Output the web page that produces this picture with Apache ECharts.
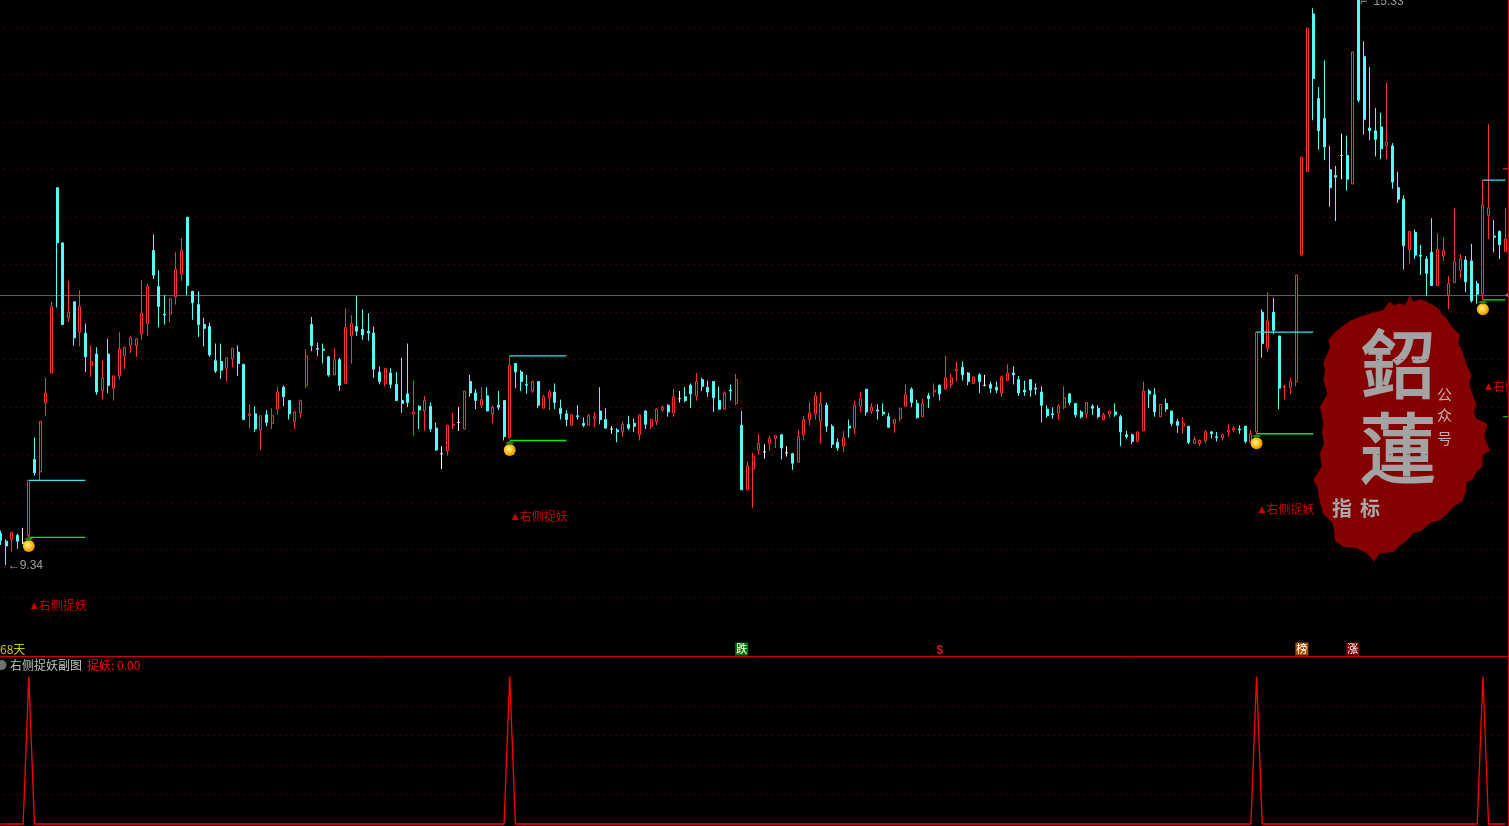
<!DOCTYPE html>
<html><head><meta charset="utf-8">
<style>html,body{margin:0;padding:0;background:#000;overflow:hidden}#c{width:1509px;height:826px}</style>
<script src="https://cdn.jsdelivr.net/npm/echarts@6/dist/echarts.min.js"></script>
</head><body><div id="c"></div>
<script>
// candles: [open, close, low, high]
const ohlc = [
[9.67,9.60,9.55,9.70],[9.59,9.54,9.34,9.61],[9.61,9.68,9.48,9.69],[9.65,9.59,9.51,9.67],[9.57,9.57,9.56,9.73],
[9.65,10.23,9.63,10.23],[10.45,10.31,10.28,10.68],[10.32,10.85,10.23,10.85],[11.05,11.15,10.91,11.31],[11.36,12.06,11.36,12.11],
[13.31,12.73,12.05,13.31],[12.73,11.87,11.87,12.73],[11.94,12.00,11.90,12.33],[12.11,11.73,11.65,12.11],[11.79,12.06,11.64,12.23],
[11.78,11.53,11.37,11.88],[11.44,11.48,11.32,11.65],[11.56,11.16,11.13,11.63],[11.17,11.31,11.08,11.49],[11.56,11.23,11.15,11.72],
[11.20,11.33,11.07,11.33],[11.33,11.61,11.29,11.79],[11.54,11.63,11.40,11.64],[11.65,11.73,11.57,11.75],[11.65,11.72,11.53,11.73],
[11.77,11.99,11.71,12.34],[11.88,12.27,11.75,12.30],[12.65,12.39,12.35,12.82],[12.27,12.06,11.84,12.44],[11.98,11.97,11.87,12.18],
[11.98,12.14,11.89,12.15],[12.16,12.45,12.08,12.63],[12.40,12.65,12.33,12.78],[13.00,12.28,12.18,13.00],[12.22,12.10,11.92,12.22],
[12.08,11.87,11.74,12.22],[11.87,11.83,11.64,11.94],[11.85,11.55,11.53,11.89],[11.49,11.38,11.36,11.67],[11.48,11.39,11.30,11.67],
[11.41,11.52,11.27,11.52],[11.51,11.62,11.42,11.62],[11.58,11.46,11.33,11.65],[11.45,10.87,10.87,11.46],[10.91,10.93,10.78,11.03],
[10.93,10.77,10.74,11.01],[10.76,10.91,10.55,10.91],[10.92,10.84,10.80,10.97],[10.83,10.91,10.77,10.99],[10.98,11.16,10.92,11.21],
[11.21,11.11,11.01,11.23],[11.07,10.93,10.87,11.07],[10.85,10.95,10.77,10.96],[10.94,11.07,10.89,11.08],[11.23,11.54,11.20,11.61],
[11.87,11.65,11.59,11.95],[11.62,11.61,11.54,11.68],[11.61,11.60,11.46,11.67],[11.53,11.34,11.32,11.54],[11.34,11.50,11.34,11.62],
[11.50,11.23,11.17,11.52],[11.25,11.84,11.25,12.04],[11.75,11.88,11.46,11.97],[11.85,11.80,11.75,12.17],[11.82,11.76,11.71,12.03],
[11.80,11.78,11.70,11.99],[11.78,11.40,11.31,11.85],[11.37,11.27,11.24,11.43],[11.25,11.41,11.22,11.41],[11.36,11.24,11.20,11.41],
[11.24,11.07,11.07,11.37],[11.07,11.04,10.94,11.52],[11.14,11.05,11.00,11.67],[10.93,10.95,10.70,11.28],[11.01,10.97,10.77,11.02],
[10.96,11.07,10.75,11.12],[11.01,10.77,10.74,11.05],[10.78,10.55,10.54,10.84],[10.51,10.51,10.35,10.59],[10.54,10.81,10.49,10.81],
[10.81,10.82,10.77,10.94],[10.84,10.84,10.75,11.00],[10.77,11.17,10.77,11.17],[11.27,11.15,11.11,11.34],[11.15,11.07,10.98,11.19],
[11.02,11.08,10.99,11.21],[11.12,10.96,10.96,11.21],[10.93,11.00,10.83,11.02],[11.02,11.00,10.97,11.17],[11.07,10.69,10.65,11.07],
[10.68,11.44,10.67,11.54],[11.46,11.37,11.20,11.46],[11.37,11.27,11.17,11.39],[11.24,11.23,11.14,11.34],[11.17,11.27,11.15,11.28],
[11.27,11.02,10.99,11.27],[10.99,11.11,10.99,11.13],[11.10,11.16,10.97,11.18],[11.16,11.05,10.98,11.25],[10.99,10.93,10.87,11.08],
[10.93,10.87,10.80,10.97],[10.81,10.92,10.80,10.93],[10.91,10.90,10.87,11.02],[10.83,10.81,10.79,10.89],[10.81,10.91,10.81,10.93],
[10.88,10.90,10.79,10.95],[10.96,10.87,10.82,11.21],[10.87,10.78,10.77,10.99],[10.77,10.77,10.72,10.80],[10.76,10.74,10.63,10.78],
[10.74,10.82,10.69,10.85],[10.82,10.78,10.76,10.91],[10.83,10.80,10.74,10.88],[10.71,10.92,10.65,10.92],[10.96,10.82,10.77,10.97],
[10.80,10.87,10.77,10.88],[10.85,10.98,10.81,10.99],[10.97,11.00,10.95,11.02],[11.02,10.95,10.90,11.03],[10.94,11.11,10.90,11.19],
[11.09,11.09,11.05,11.17],[11.11,11.07,11.05,11.21],[11.23,11.14,10.99,11.25],[11.12,11.27,11.07,11.36],[11.29,11.22,11.17,11.31],
[11.21,11.16,11.11,11.28],[11.27,11.10,10.95,11.27],[11.07,10.98,10.97,11.22],[10.98,11.15,10.98,11.17],[11.18,11.17,11.07,11.24],
[11.04,11.29,11.02,11.35],[10.81,10.13,10.13,10.96],[10.13,10.38,10.13,10.43],[10.35,10.48,9.94,10.52],[10.55,10.62,10.50,10.72],
[10.53,10.53,10.46,10.61],[10.62,10.67,10.54,10.70],[10.67,10.70,10.57,10.70],[10.71,10.57,10.45,10.72],[10.52,10.52,10.48,10.59],
[10.51,10.41,10.34,10.52],[10.42,10.69,10.42,10.76],[10.71,10.87,10.65,10.91],[10.87,10.94,10.81,11.05],[10.93,11.12,10.87,11.16],
[10.85,11.04,10.62,11.16],[11.02,10.80,10.74,11.05],[10.80,10.61,10.57,10.82],[10.63,10.57,10.54,10.67],[10.59,10.68,10.53,10.75],
[10.80,10.78,10.68,10.87],[10.78,11.02,10.72,11.07],[11.01,11.09,10.95,11.16],[11.19,10.95,10.91,11.19],[10.96,11.00,10.93,11.04],
[10.97,10.96,10.87,11.03],[10.95,10.93,10.91,11.04],[10.90,10.79,10.78,10.94],[10.83,10.87,10.73,10.87],[10.88,10.99,10.85,10.99],
[11.01,11.13,11.01,11.24],[11.19,11.05,11.00,11.21],[11.04,10.89,10.88,11.08],[10.90,11.04,10.90,11.09],[11.12,11.09,10.99,11.15],
[11.16,11.18,11.11,11.25],[11.23,11.14,11.07,11.24],[11.19,11.31,11.19,11.54],[11.24,11.31,11.20,11.35],[11.38,11.40,11.27,11.48],
[11.42,11.34,11.28,11.48],[11.36,11.27,11.23,11.37],[11.25,11.32,11.25,11.32],[11.34,11.27,11.15,11.36],[11.23,11.23,11.22,11.34],
[11.24,11.20,11.15,11.27],[11.21,11.18,11.15,11.27],[11.15,11.32,11.11,11.33],[11.28,11.36,11.28,11.45],[11.36,11.34,11.24,11.43],
[11.29,11.15,11.12,11.33],[11.18,11.16,11.12,11.28],[11.29,11.18,11.11,11.29],[11.20,11.19,11.13,11.25],[11.16,11.02,10.84,11.22],
[10.98,10.91,10.89,11.02],[10.93,10.92,10.88,11.00],[10.94,11.01,10.87,11.03],[11.00,11.10,10.98,11.22],[11.14,11.05,11.02,11.15],
[11.04,10.92,10.89,11.04],[10.95,10.90,10.88,10.97],[10.93,11.05,10.88,11.05],[11.01,10.99,10.92,11.03],[10.99,10.90,10.88,11.02],
[10.87,10.92,10.87,10.94],[10.93,10.96,10.89,10.96],[10.95,10.92,10.90,11.04],[10.90,10.74,10.59,10.92],[10.71,10.69,10.67,10.75],
[10.71,10.64,10.61,10.72],[10.64,10.74,10.63,10.74],[10.75,11.17,10.75,11.27],[11.17,11.14,10.99,11.19],[11.13,10.95,10.90,11.20],
[10.90,11.03,10.90,11.03],[11.04,10.98,10.95,11.09],[10.96,10.83,10.80,10.96],[10.85,10.81,10.73,10.88],[10.80,10.83,10.72,10.89],
[10.80,10.63,10.61,10.80],[10.62,10.66,10.62,10.69],[10.62,10.65,10.59,10.66],[10.65,10.74,10.62,10.76],[10.74,10.72,10.67,10.75],
[10.69,10.68,10.64,10.74],[10.68,10.71,10.65,10.72],[10.74,10.76,10.69,10.82],[10.76,10.78,10.74,10.80],[10.77,10.76,10.72,10.81],
[10.80,10.64,10.62,10.80],[10.63,10.72,10.63,10.76],[10.74,11.79,10.72,11.79],[12.00,11.67,11.52,12.03],[11.62,11.91,11.58,12.21],
[12.00,11.81,11.77,12.15],[11.75,11.20,10.98,11.75],[11.21,11.22,11.08,11.24],[11.21,11.27,11.14,11.31],[11.27,12.39,11.22,12.39],
[12.60,13.63,12.60,13.63],[13.48,14.99,13.48,14.99],[15.14,14.46,14.02,15.20],[14.25,13.91,13.71,14.37],[14.04,13.74,13.60,14.65],
[13.50,13.31,13.11,13.75],[13.44,13.42,12.96,13.54],[13.65,13.65,13.40,13.88],[13.65,13.40,13.28,13.86],[13.35,14.74,13.35,14.74],
[15.29,14.23,14.21,15.33],[14.69,14.03,13.87,14.85],[13.94,13.91,13.81,14.58],[13.91,13.82,13.64,14.15],[13.95,13.72,13.61,14.10],
[13.75,13.79,13.61,14.42],[13.75,13.37,13.30,13.78],[13.31,13.19,13.15,13.48],[13.19,12.70,12.45,13.23],[12.66,12.85,12.51,12.85],
[12.84,12.60,12.56,12.87],[12.60,12.59,12.39,12.71],[12.56,12.41,12.17,12.59],[12.63,12.28,12.28,12.99],[12.28,12.66,12.28,12.83],
[12.59,12.65,12.54,12.79],[12.18,12.30,12.03,12.38],[12.31,12.53,12.31,13.10],[12.44,12.56,12.36,12.61],[12.55,12.32,12.21,12.59],
[12.54,12.12,12.10,12.72],[12.30,12.19,12.09,12.33],[12.19,13.13,12.13,13.39],[13.02,13.10,12.77,13.98],[12.80,12.79,12.63,12.97],
[12.85,12.71,12.56,12.86],[12.64,12.77,12.64,13.10]
];
const categories = ohlc.map((_, i) => String(i));
const signalIndex = [5, 90, 222, 262];
const upperLevel = [10.23, 11.54, 11.79, 13.39];
const lowerLevel = [9.63, 10.65, 10.72, 12.13];
const lineSpan = 10;
const fruitLevel = [9.54, 10.55, 10.62, 12.03];
const signalTextLevel = [8.91, 9.85, 9.92, 11.22];
const peakValue = 100;
const subLevels = [20, 40, 60, 80];
const lastPrice = 12.18;
const badges = [
  {i: 131, t: '跌', c: '#007a00'},
  {i: 230, t: '榜', c: '#a05000'},
  {i: 239, t: '涨', c: '#800000'}
];
const badgeLevel = 8.455;
const dollarIndex = 166;
const extremes = [{i: 1, v: 9.34, t: '←9.34'}, {i: 240, v: 15.33, t: '⌐  15.33'}];
const edgeTicks = [{v: 13.51, c: '#ff3232'}, {v: 10.90, c: '#00e000'}];

const RED = '#ff3232', CYAN = '#54fcfc';
const FONT = '"Noto Sans CJK SC", sans-serif';
const BAND = 5.658;
const LEFT = 0.5 - BAND / 2;
const gridDots = {color: '#8a0000', width: 1, type: [1, 5]};

function levelLine(levels) {
  const d = categories.map(() => null);
  signalIndex.forEach((s, k) => {
    for (let j = s; j <= s + lineSpan && j < d.length; j++) d[j] = levels[k];
  });
  return d;
}
const subData = categories.map(() => 0);
signalIndex.forEach(s => { subData[s] = peakValue; });

const blob = [[448,35],[462,45],[480,40],[495,45],[510,15],[520,35],[540,28],[560,35],[580,45],[600,60],[605,72],[620,85],[635,110],[660,135],[655,160],[668,185],[680,225],[695,255],[688,280],[693,300],[710,345],[702,365],[708,385],[730,395],[742,402],[733,440],[750,482],[728,495],[727,530],[710,545],[696,570],[680,575],[678,605],[668,632],[640,650],[618,675],[600,690],[570,700],[545,722],[520,730],[500,752],[475,770],[460,786],[420,790],[402,815],[380,790],[350,775],[310,770],[285,752],[282,720],[278,700],[250,672],[238,630],[232,590],[220,570],[235,545],[245,530],[240,490],[252,460],[246,430],[250,400],[240,350],[262,312],[250,270],[255,240],[250,220],[270,172],[265,150],[282,130],[305,110],[330,92],[360,80],[392,70],[430,60]]
  .map(p => [1240 + p[0] / 3, 290 + p[1] / 3]);

const txt = (x, y, text, fill, size, extra) => Object.assign({
  type: 'text', silent: true,
  style: Object.assign({x, y, text, fill, font: (size) + 'px ' + FONT, textVerticalAlign: 'middle'}, extra || {})
});
const seal = {stroke: '#a3a3a3', lineWidth: 2};

const chart = echarts.init(document.getElementById('c'), null, {renderer: 'canvas'});
chart.setOption({
  animation: false,
  backgroundColor: '#000',
  grid: [
    {outerBoundsMode: 'none', left: LEFT, width: BAND * 267, top: -20.3, height: 617.5},
    {outerBoundsMode: 'none', left: LEFT, width: BAND * 267, top: 676.5, height: 147.5}
  ],
  xAxis: [
    {type: 'category', data: categories, gridIndex: 0, show: false},
    {type: 'category', data: categories, gridIndex: 1, show: false}
  ],
  yAxis: [
    {type: 'value', gridIndex: 0, min: 9, max: 15.5, interval: 0.5, scale: true,
     axisLine: {show: false}, axisTick: {show: false}, axisLabel: {show: false},
     splitLine: {show: true, lineStyle: gridDots}},
    {type: 'value', gridIndex: 1, min: 0, max: 100, interval: 20,
     axisLine: {show: false}, axisTick: {show: false}, axisLabel: {show: false},
     splitLine: {show: false}}
  ],
  graphic: {elements: [
    {type: 'polygon', z: -5, silent: true, shape: {points: blob}, style: {fill: '#850000'}},
    txt(1361, 364, '鉊', '#a3a3a3', 74, seal),
    txt(1360, 448, '蓮', '#a3a3a3', 76, seal),
    txt(1437, 394, '公', '#c9a9a9', 15),
    txt(1437, 415, '众', '#c9a9a9', 15),
    txt(1437, 438, '号', '#c9a9a9', 15),
    txt(1332, 508, '指', '#a9a9a9', 20, {font: 'bold 20px ' + FONT}),
    txt(1360, 508, '标', '#a9a9a9', 20, {font: 'bold 20px ' + FONT}),
    txt(0, 649, '68天', '#c8c800', 12),
    txt(10, 665, '右侧捉妖副图', '#c0c0c0', 12),
    txt(87, 665, '捉妖: 0.00', '#ff0000', 12),
    {type: 'circle', silent: true, shape: {cx: 1.5, cy: 665, r: 5}, style: {fill: '#707070'}},
    {type: 'line', silent: true, z: 20, shape: {x1: 0, y1: 656.5, x2: 1509, y2: 656.5}, style: {stroke: '#c80000', lineWidth: 1}},
    {type: 'line', silent: true, z: 20, shape: {x1: 1508.5, y1: 0, x2: 1508.5, y2: 826}, style: {stroke: '#c80000', lineWidth: 1}}
  ]},
  series: [
    {type: 'candlestick', name: 'K', xAxisIndex: 0, yAxisIndex: 0, data: ohlc, barWidth: 2.5, z: 3,
     itemStyle: {color: '#000', color0: CYAN, borderColor: RED, borderColor0: CYAN, borderColorDoji: '#ffffff', borderWidth: 1},
     markLine: {silent: true, symbol: 'none', label: {show: false}, animation: false, z: 2,
       lineStyle: {color: '#5e5e5e', width: 1, type: 'solid'}, data: [{yAxis: lastPrice}]}},
    {type: 'line', name: 'upper', xAxisIndex: 0, yAxisIndex: 0, data: levelLine(upperLevel), showSymbol: false, z: 4,
     lineStyle: {color: '#35e6f0', width: 1.4}, connectNulls: false},
    {type: 'line', name: 'lower', xAxisIndex: 0, yAxisIndex: 0, data: levelLine(lowerLevel), showSymbol: false, z: 4,
     lineStyle: {color: '#00f000', width: 1.4}, connectNulls: false},
    {type: 'scatter', name: 'fruit', xAxisIndex: 0, yAxisIndex: 0, clip: false, z: 6, symbolSize: 12,
     data: signalIndex.map((s, k) => [s, fruitLevel[k]]),
     itemStyle: {opacity: 1, color: {type: 'radial', x: 0.42, y: 0.42, r: 0.65, colorStops: [
       {offset: 0, color: '#fff2a0'}, {offset: 0.45, color: '#ffc820'}, {offset: 1, color: '#e08000'}]}}},
    {type: 'scatter', name: 'leaf', xAxisIndex: 0, yAxisIndex: 0, clip: false, z: 7, symbol: 'diamond', symbolSize: [10, 4], symbolOffset: [0, -7],
     data: signalIndex.map((s, k) => [s, fruitLevel[k]]), itemStyle: {opacity: 1, color: '#2f7d1e'}},
    {type: 'scatter', name: 'signal', xAxisIndex: 0, yAxisIndex: 0, clip: false, z: 8, symbolSize: 1,
     data: signalIndex.map((s, k) => [s, signalTextLevel[k]]), itemStyle: {color: 'transparent'},
     label: {show: true, position: 'right', distance: 1.5, formatter: '{t|▲}右侧捉妖', color: '#ff0000', fontSize: 12, fontFamily: FONT,
       rich: {t: {fontSize: 9, color: '#ff0000', fontFamily: 'DejaVu Sans', padding: [0, 1, 0, 0]}}}},
    {type: 'scatter', name: 'extreme', xAxisIndex: 0, yAxisIndex: 0, clip: false, z: 8, symbolSize: 1,
     data: extremes.map(e => ({value: [e.i, e.v], label: {formatter: e.t, offset: [0, e.v > 15 ? 6 : 1]}})), itemStyle: {color: 'transparent'},
     label: {show: true, position: 'right', distance: 1, color: '#c0c0c0', fontSize: 12, fontFamily: 'Liberation Sans, sans-serif'}},
    {type: 'scatter', name: 'badge', xAxisIndex: 0, yAxisIndex: 0, clip: false, z: 8, symbol: 'rect', symbolSize: 13,
     data: badges.map(b => ({value: [b.i, badgeLevel], itemStyle: {opacity: 1, color: b.c}, label: {formatter: b.t}})),
     label: {show: true, position: 'inside', color: '#fff', fontSize: 11, fontFamily: FONT}},
    {type: 'scatter', name: 'dollar', xAxisIndex: 0, yAxisIndex: 0, clip: false, z: 8, symbolSize: 1,
     data: [[dollarIndex, badgeLevel]], itemStyle: {color: 'transparent'},
     label: {show: true, position: 'inside', offset: [0, 2], formatter: '$', color: '#ff2020', fontSize: 12, fontWeight: 'bold', fontFamily: 'Liberation Sans'}},
    {type: 'scatter', name: 'edge', xAxisIndex: 0, yAxisIndex: 0, clip: false, z: 5, symbol: 'rect', symbolSize: [5, 1],
     data: edgeTicks.map(e => ({value: [266, e.v], itemStyle: {opacity: 1, color: e.c}}))},
    {type: 'scatter', name: 'arrow', xAxisIndex: 0, yAxisIndex: 0, clip: false, z: 5, symbol: 'triangle', symbolRotate: 90, symbolSize: [8, 5], symbolOffset: [2, 0],
     data: [[266, lastPrice]], itemStyle: {opacity: 1, color: '#808080'}},
    {type: 'line', name: '捉妖', xAxisIndex: 1, yAxisIndex: 1, data: subData, showSymbol: false, z: 4, clip: false,
     lineStyle: {color: '#ff0000', width: 1.3},
     markLine: {silent: true, symbol: 'none', label: {show: false}, animation: false,
       lineStyle: gridDots, data: subLevels.map(v => ({yAxis: v}))}}
  ]
});
</script></body></html>
